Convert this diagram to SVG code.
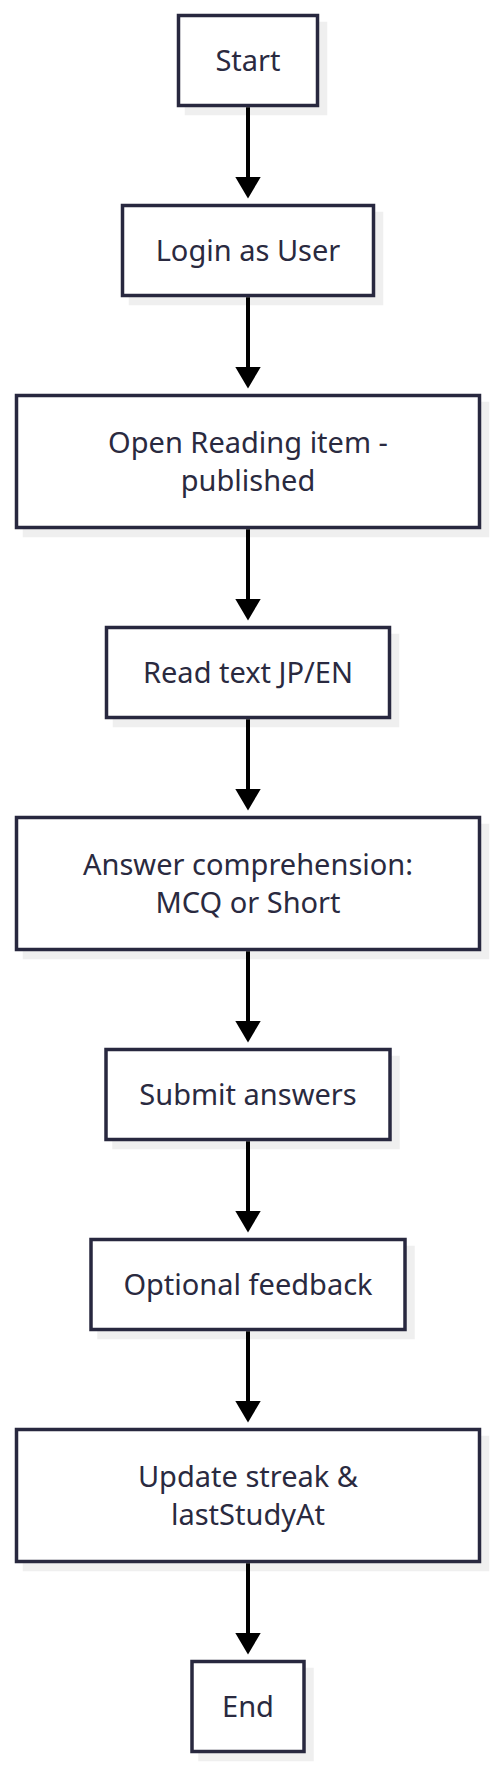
<svg xmlns="http://www.w3.org/2000/svg" width="496" height="1768" viewBox="0 0 496 1768">
<style>
.shadow{fill:#efefef;stroke:none}
.box{fill:#ffffff;stroke:#28283f;stroke-width:3.5}
.lbl{font-family:"Noto Sans","DejaVu Sans",sans-serif;font-size:29px;fill:#2a2a40;text-anchor:middle}
.edge{stroke:#000000;stroke-width:4;fill:none}
</style>
<defs>
<marker id="arrow" viewBox="0 0 22 26" refX="12" refY="13" markerWidth="22" markerHeight="26" markerUnits="userSpaceOnUse" orient="auto">
<path d="M0,0 L22,13 L0,26 Z" fill="#000000"/>
</marker>
</defs>
<g id="start">
<rect class="shadow" x="184.75" y="21.75" width="142.5" height="93.5"/>
<rect class="box" x="178.5" y="15.5" width="139" height="90"/>
<text class="lbl" x="248" y="70.8">Start</text>
</g>
<g id="login">
<rect class="shadow" x="128.75" y="211.75" width="254.5" height="93.5"/>
<rect class="box" x="122.5" y="205.5" width="251" height="90"/>
<text class="lbl" x="248" y="260.8">Login as User</text>
</g>
<g id="open">
<rect class="shadow" x="22.75" y="401.75" width="466.5" height="135.5"/>
<rect class="box" x="16.5" y="395.5" width="463" height="132"/>
<text class="lbl" x="248" y="452.8">Open Reading item -</text>
<text class="lbl" x="248" y="491">published</text>
</g>
<g id="read">
<rect class="shadow" x="112.75" y="633.75" width="286.5" height="93.5"/>
<rect class="box" x="106.5" y="627.5" width="283" height="90"/>
<text class="lbl" x="248" y="682.8">Read text JP/EN</text>
</g>
<g id="answer">
<rect class="shadow" x="22.75" y="823.75" width="466.5" height="135.5"/>
<rect class="box" x="16.5" y="817.5" width="463" height="132"/>
<text class="lbl" x="248" y="874.8">Answer comprehension:</text>
<text class="lbl" x="248" y="913">MCQ or Short</text>
</g>
<g id="submit">
<rect class="shadow" x="112.25" y="1055.75" width="287.5" height="93.5"/>
<rect class="box" x="106" y="1049.5" width="284" height="90"/>
<text class="lbl" x="248" y="1104.8">Submit answers</text>
</g>
<g id="optional">
<rect class="shadow" x="97.25" y="1245.75" width="317.5" height="93.5"/>
<rect class="box" x="91" y="1239.5" width="314" height="90"/>
<text class="lbl" x="248" y="1294.8">Optional feedback</text>
</g>
<g id="update">
<rect class="shadow" x="22.75" y="1435.75" width="466.5" height="135.5"/>
<rect class="box" x="16.5" y="1429.5" width="463" height="132"/>
<text class="lbl" x="248" y="1486.8">Update streak &amp;</text>
<text class="lbl" x="248" y="1525">lastStudyAt</text>
</g>
<g id="end">
<rect class="shadow" x="198.25" y="1667.75" width="115.5" height="93.5"/>
<rect class="box" x="192" y="1661.5" width="112" height="90"/>
<text class="lbl" x="248" y="1716.8">End</text>
</g>
<g id="edges">
<line class="edge" x1="248" y1="107.25" x2="248" y2="188.5" marker-end="url(#arrow)"/>
<line class="edge" x1="248" y1="297.25" x2="248" y2="378.5" marker-end="url(#arrow)"/>
<line class="edge" x1="248" y1="529.25" x2="248" y2="610.5" marker-end="url(#arrow)"/>
<line class="edge" x1="248" y1="719.25" x2="248" y2="800.5" marker-end="url(#arrow)"/>
<line class="edge" x1="248" y1="951.25" x2="248" y2="1032.5" marker-end="url(#arrow)"/>
<line class="edge" x1="248" y1="1141.25" x2="248" y2="1222.5" marker-end="url(#arrow)"/>
<line class="edge" x1="248" y1="1331.25" x2="248" y2="1412.5" marker-end="url(#arrow)"/>
<line class="edge" x1="248" y1="1563.25" x2="248" y2="1644.5" marker-end="url(#arrow)"/>
</g>
</svg>
